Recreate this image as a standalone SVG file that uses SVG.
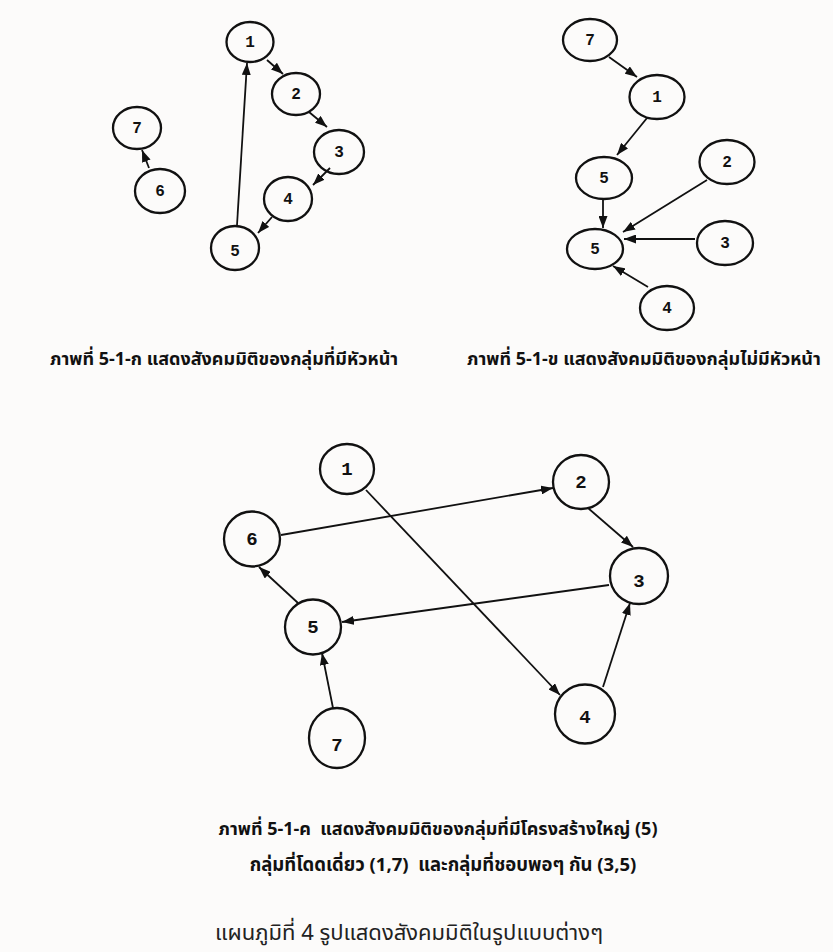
<svg xmlns="http://www.w3.org/2000/svg" width="833" height="952" viewBox="0 0 833 952">
<defs>
<marker id="ah" viewBox="0 0 12 9" refX="12" refY="4.5" markerWidth="12" markerHeight="9" markerUnits="userSpaceOnUse" orient="auto">
<path d="M0,0 L12,4.5 L0,9 Z" fill="#111"/>
</marker>
<style>
.n{fill:none;stroke:#111;stroke-width:2.3}
.t{font-family:"Liberation Mono","DejaVu Sans Mono",monospace;font-weight:bold;font-size:16px;fill:#111;text-anchor:middle;dominant-baseline:central}
.tb{font-size:19px}
.e{stroke:#111;stroke-width:1.8;fill:none;marker-end:url(#ah)}
.cap{font-family:"Noto Sans Thai","Noto Sans","DejaVu Sans",sans-serif;font-weight:bold;fill:#111;white-space:pre}
.foot{font-family:"Noto Sans Thai","Noto Sans","DejaVu Sans",sans-serif;fill:#222}
</style>
</defs>
<rect width="833" height="952" fill="#fcfbfa"/>

<g id="connectors">
<!-- top-left -->
<line class="e" x1="267" y1="60" x2="283" y2="74"/>
<line class="e" x1="309" y1="112" x2="327" y2="127"/>
<line class="e" x1="330" y1="168" x2="313" y2="185"/>
<line class="e" x1="272" y1="217" x2="258" y2="233"/>
<line class="e" x1="237" y1="225" x2="247" y2="63"/>
<line class="e" x1="149" y1="168" x2="142" y2="150"/>
<!-- top-right -->
<line class="e" x1="609" y1="57" x2="637" y2="77"/>
<line class="e" x1="647" y1="118" x2="617" y2="155"/>
<line class="e" x1="603" y1="199" x2="603" y2="228"/>
<line class="e" x1="707" y1="180" x2="623" y2="232"/>
<line class="e" x1="695" y1="239" x2="624" y2="239"/>
<line class="e" x1="648" y1="287" x2="613" y2="266"/>
<!-- bottom -->
<line class="e" x1="281" y1="535" x2="553" y2="488"/>
<line class="e" x1="366" y1="490" x2="560" y2="695"/>
<line class="e" x1="588" y1="508" x2="633" y2="547"/>
<line class="e" x1="609" y1="585" x2="342" y2="622"/>
<line class="e" x1="603" y1="687" x2="630" y2="603"/>
<line class="e" x1="298" y1="603" x2="259" y2="567"/>
<line class="e" x1="333" y1="708" x2="322" y2="653"/>
</g>

<!-- top-left graph -->
<g id="a1"><ellipse class="n" cx="250" cy="42" rx="23.5" ry="20"/><text class="t" x="250" y="43">1</text></g>
<g id="a2"><ellipse class="n" cx="296" cy="94" rx="24" ry="21"/><text class="t" x="296" y="95">2</text></g>
<g id="a3"><ellipse class="n" cx="339" cy="152" rx="25" ry="22"/><text class="t" x="339" y="153">3</text></g>
<g id="a4"><ellipse class="n" cx="288" cy="199" rx="24" ry="22"/><text class="t" x="288" y="200">4</text></g>
<g id="a5"><ellipse class="n" cx="235" cy="248" rx="24" ry="22"/><text class="t" x="235" y="252">5</text></g>
<g id="a7"><ellipse class="n" cx="137" cy="128" rx="24" ry="21"/><text class="t" x="137" y="129">7</text></g>
<g id="a6"><ellipse class="n" cx="160" cy="191" rx="25" ry="22"/><text class="t" x="160" y="192">6</text></g>

<!-- top-right graph -->
<g id="b7"><ellipse class="n" cx="590" cy="40" rx="27" ry="21"/><text class="t" x="590" y="41">7</text></g>
<g id="b1"><ellipse class="n" cx="657" cy="97" rx="27.5" ry="22"/><text class="t" x="657" y="98">1</text></g>
<g id="b5a"><ellipse class="n" cx="604" cy="178" rx="28" ry="21"/><text class="t" x="604" y="179">5</text></g>
<g id="b2"><ellipse class="n" cx="727" cy="162" rx="27.5" ry="22"/><text class="t" x="727" y="163">2</text></g>
<g id="b5b"><ellipse class="n" cx="595" cy="249" rx="28" ry="20"/><text class="t" x="595" y="250">5</text></g>
<g id="b3"><ellipse class="n" cx="725" cy="243" rx="28" ry="22"/><text class="t" x="725" y="244">3</text></g>
<g id="b4"><ellipse class="n" cx="667" cy="308" rx="27" ry="22"/><text class="t" x="667" y="309">4</text></g>

<text class="cap" x="50" y="365" font-size="18">ภาพที่ 5-1-ก แสดงสังคมมิติของกลุ่มที่มีหัวหน้า</text>
<text class="cap" x="467" y="365" font-size="18">ภาพที่ 5-1-ข แสดงสังคมมิติของกลุ่มไม่มีหัวหน้า</text>

<!-- bottom graph -->
<g id="c1"><ellipse class="n" cx="347" cy="469" rx="27" ry="25"/><text class="t tb" x="347" y="470">1</text></g>
<g id="c2"><ellipse class="n" cx="581" cy="482" rx="28" ry="27"/><text class="t tb" x="581" y="483">2</text></g>
<g id="c6"><ellipse class="n" cx="252" cy="539" rx="28" ry="27.5"/><text class="t tb" x="252" y="540">6</text></g>
<g id="c3"><ellipse class="n" cx="639" cy="576" rx="29" ry="28"/><text class="t tb" x="639" y="582">3</text></g>
<g id="c5"><ellipse class="n" cx="313" cy="627" rx="28" ry="27.5"/><text class="t tb" x="313" y="628">5</text></g>
<g id="c7"><ellipse class="n" cx="337" cy="738" rx="28" ry="30"/><text class="t tb" x="337" y="746">7</text></g>
<g id="c4"><ellipse class="n" cx="585" cy="714" rx="30" ry="29.5"/><text class="t tb" x="585" y="718">4</text></g>

<text class="cap" x="438" y="835" font-size="18" text-anchor="middle">ภาพที่ 5-1-ค  แสดงสังคมมิติของกลุ่มที่มีโครงสร้างใหญ่ (5)</text>
<text class="cap" x="443" y="871" font-size="18.5" text-anchor="middle">กลุ่มที่โดดเดี่ยว (1,7)  และกลุ่มที่ชอบพอๆ กัน (3,5)</text>
<text class="foot" x="215" y="940" font-size="22">แผนภูมิที่ 4 รูปแสดงสังคมมิติในรูปแบบต่างๆ</text>
</svg>
